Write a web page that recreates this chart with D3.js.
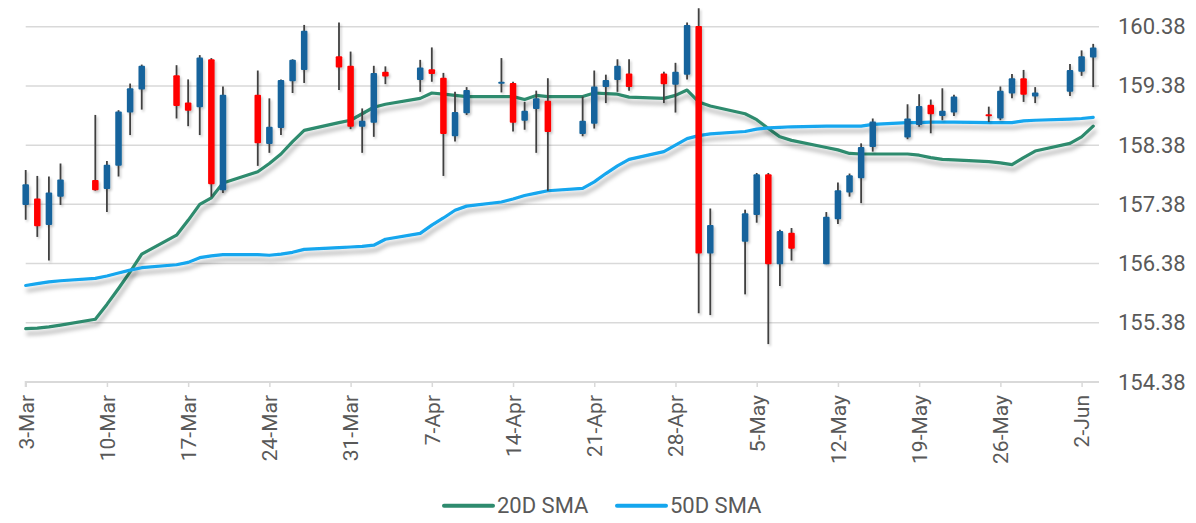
<!DOCTYPE html>
<html><head><meta charset="utf-8">
<script src="https://cdn.jsdelivr.net/npm/d3@7"></script>
<style>
body{margin:0;background:#fff;}
svg text{font-family:Roboto,"Noto Sans",sans-serif;fill:#595959;}
</style>
</head><body>
<svg id="chart" width="1196" height="523"></svg>
<script>
const dates = ["2025-03-03","2025-03-04","2025-03-05","2025-03-06",
"2025-03-09","2025-03-10","2025-03-11","2025-03-12","2025-03-13",
"2025-03-16","2025-03-17","2025-03-18","2025-03-19","2025-03-20",
"2025-03-23","2025-03-24","2025-03-25","2025-03-26","2025-03-27",
"2025-03-30","2025-03-31","2025-04-01","2025-04-02","2025-04-03",
"2025-04-06","2025-04-07","2025-04-08","2025-04-09","2025-04-10",
"2025-04-13","2025-04-14","2025-04-15","2025-04-16","2025-04-17",
"2025-04-20","2025-04-21","2025-04-22","2025-04-23","2025-04-24",
"2025-04-27","2025-04-28","2025-04-29","2025-04-30","2025-05-01",
"2025-05-04","2025-05-05","2025-05-06","2025-05-07","2025-05-08",
"2025-05-11","2025-05-12","2025-05-13","2025-05-14","2025-05-15",
"2025-05-18","2025-05-19","2025-05-20","2025-05-21","2025-05-22",
"2025-05-25","2025-05-26","2025-05-27","2025-05-28","2025-05-29",
"2025-06-01","2025-06-02","2025-06-03"];
const open = [157.37,157.48,157.03,157.51,
157.79,157.64,158.03,158.93,159.32,
159.56,159.10,159.02,159.83,157.62,
159.23,158.40,158.67,159.46,159.65,
159.88,159.72,158.69,158.76,159.62,
159.48,159.66,159.52,158.53,158.92,
159.42,159.43,158.79,158.99,159.13,
158.57,158.74,159.36,159.48,159.59,
159.59,159.40,159.57,160.39,156.55,
156.75,157.20,157.89,156.37,156.90,
156.37,157.13,157.58,157.82,158.35,
158.51,158.72,159.06,158.87,158.93,
158.90,158.83,159.25,159.51,159.20,
159.28,159.62,159.86];
const high = [157.96,157.86,157.85,158.07,
158.89,158.11,158.97,159.42,159.74,
159.73,159.49,159.90,159.85,159.37,
159.64,159.17,159.49,159.83,160.41,
160.45,159.96,159.00,159.72,159.71,
159.82,160.03,159.60,159.28,159.36,
159.85,159.45,159.11,159.30,159.51,
159.20,159.64,159.57,159.83,159.83,
159.62,159.77,160.45,160.69,157.31,
157.29,157.91,157.91,156.95,156.98,
157.25,157.75,157.90,158.41,158.83,
159.07,159.24,159.15,159.34,159.23,
159.03,159.37,159.58,159.65,159.36,
159.75,159.98,160.09];
const low = [157.12,156.83,156.43,157.37,
157.61,157.25,157.85,158.55,158.98,
158.83,158.70,158.55,157.51,157.57,
158.03,158.25,158.55,159.26,159.43,
159.31,158.65,158.25,158.52,159.41,
159.28,159.45,157.86,158.44,158.89,
159.27,158.61,158.64,158.25,157.61,
158.53,158.66,159.09,159.28,159.30,
159.09,158.93,159.49,155.54,155.51,
155.86,157.07,155.02,156.00,156.43,
156.37,157.05,157.51,157.40,158.27,
158.48,158.69,158.58,158.80,158.87,
158.77,158.80,159.17,159.11,159.09,
159.21,159.55,159.36];
const close = [157.72,157.01,157.58,157.80,
157.62,158.05,158.95,159.34,159.72,
159.04,158.96,159.86,157.72,159.23,
158.41,158.69,159.48,159.82,160.31,
159.69,158.69,158.79,159.60,159.54,
159.69,159.58,158.57,158.94,159.31,
159.45,158.76,158.96,159.17,158.60,
158.79,159.37,159.48,159.72,159.36,
159.41,159.62,160.41,156.55,157.03,
157.23,157.89,156.37,156.93,156.63,
157.17,157.62,157.87,158.35,158.78,
158.83,159.04,158.90,158.96,159.20,
158.88,159.30,159.51,159.23,159.27,
159.65,159.88,160.03];
const sma20 = [155.28,155.29,155.31,155.34,
155.44,155.69,155.96,156.24,156.54,
156.86,157.11,157.38,157.49,157.74,
157.93,158.07,158.23,158.44,158.63,
158.76,158.80,158.91,159.02,159.07,
159.17,159.26,159.24,159.22,159.20,
159.20,159.20,159.15,159.22,159.20,
159.20,159.26,159.25,159.24,159.19,
159.17,159.22,159.31,159.11,159.04,
158.91,158.81,158.66,158.52,158.46,
158.34,158.30,158.24,158.23,158.23,
158.23,158.21,158.17,158.14,158.13,
158.10,158.08,158.05,158.17,158.28,
158.41,158.52,158.70];
const sma50 = [156.01,156.04,156.07,156.09,
156.13,156.17,156.22,156.27,156.31,
156.36,156.40,156.48,156.51,156.53,
156.53,156.52,156.54,156.57,156.62,
156.65,156.66,156.67,156.69,156.79,
156.89,157.03,157.15,157.28,157.35,
157.42,157.47,157.53,157.57,157.61,
157.65,157.76,157.90,158.03,158.14,
158.27,158.38,158.49,158.54,158.57,
158.61,158.65,158.67,158.68,158.69,
158.70,158.70,158.70,158.70,158.73,
158.76,158.76,158.77,158.77,158.77,
158.76,158.76,158.76,158.79,158.80,
158.82,158.83,158.85];
const yTicks = [154.38,155.38,156.38,157.38,158.38,159.38,160.38];
const xTicks = ["2025-03-03","2025-03-10","2025-03-17","2025-03-24","2025-03-31",
"2025-04-07","2025-04-14","2025-04-21","2025-04-28","2025-05-05","2025-05-12",
"2025-05-19","2025-05-26","2025-06-02"];
const seriesNames = ["20D SMA","50D SMA"];
const seriesColors = ["#2e8b6e","#14a6ee"];

const parse = d3.utcParse("%Y-%m-%d");
const data = dates.map((d,i)=>({date:parse(d),o:open[i],h:high[i],l:low[i],c:close[i],s20:sma20[i],s50:sma50[i]}));

const L = 25.7, R = 1099, T = 26.7, B = 382;
const x = d3.scaleUtc()
  .domain([parse("2025-03-03"), d3.utcHour.offset(parse("2025-06-03"), 12)])
  .range([L, R]);
const y = d3.scaleLinear().domain([154.38,160.38]).range([B, T]);

const svg = d3.select("#chart");
const defs = svg.append("defs");
const f1 = defs.append("filter").attr("id","lineShadow").attr("x","-5%").attr("y","-50%").attr("width","110%").attr("height","200%");
f1.append("feDropShadow").attr("dx",2).attr("dy",5).attr("stdDeviation",2.2).attr("flood-color","#000").attr("flood-opacity",0.3);
const f2 = defs.append("filter").attr("id","candleShadow").attr("x","-50%").attr("y","-20%").attr("width","250%").attr("height","140%");
f2.append("feDropShadow").attr("dx",1.5).attr("dy",2).attr("stdDeviation",1.2).attr("flood-color","#000").attr("flood-opacity",0.22);

// gridlines
svg.append("g").selectAll("line").data(yTicks.filter(v=>v!==154.38)).join("line")
  .attr("x1",L).attr("x2",R).attr("y1",d=>y(d)).attr("y2",d=>y(d))
  .attr("stroke","#d9d9d9").attr("stroke-width",1.5);

// x axis
const xAxis = d3.axisBottom(x).tickValues(xTicks.map(parse)).tickSize(5).tickFormat(d3.utcFormat("%-d-%b"));
const gx = svg.append("g").attr("transform",`translate(0,${B})`).call(xAxis);
gx.select(".domain").attr("stroke","#d9d9d9").attr("stroke-width",2).attr("d",`M${L},5V0H${R}`);
gx.selectAll(".tick line").attr("stroke","#d9d9d9").attr("stroke-width",1.5);
gx.selectAll(".tick text").attr("font-size",21).attr("fill","#595959")
  .attr("text-anchor","end").attr("transform","rotate(-90)")
  .attr("x",-13).attr("y",0).attr("dy","0.35em");

// y axis labels (right)
const yAxis = d3.axisRight(y).tickValues(yTicks).tickSize(0).tickPadding(0).tickFormat(d3.format(".2f"));
const gy = svg.append("g").attr("transform",`translate(1118,0)`).call(yAxis);
gy.select(".domain").remove();
gy.selectAll(".tick text").attr("font-size",22).attr("fill","#595959").attr("x",0);

// SMA lines
const plot = svg.append("g");
const keys = ["s20","s50"];
keys.forEach((k,i)=>{
  plot.append("path").datum(data)
    .attr("fill","none").attr("stroke",seriesColors[i]).attr("stroke-width",3.2)
    .attr("stroke-linejoin","round").attr("stroke-linecap","round")
    .attr("filter","url(#lineShadow)")
    .attr("d", d3.line().x(d=>x(d.date)).y(d=>y(d[k]))(data));
});

// candles
const bw = 6.5;
const cg = plot.append("g").attr("filter","url(#candleShadow)");
const candle = cg.selectAll("g").data(data).join("g");
candle.append("line")
  .attr("x1",d=>x(d.date)).attr("x2",d=>x(d.date))
  .attr("y1",d=>y(d.h)).attr("y2",d=>y(d.l))
  .attr("stroke","#404040").attr("stroke-width",1.8);
candle.append("rect")
  .attr("x",d=>x(d.date)-bw/2).attr("width",bw)
  .attr("y",d=>y(Math.max(d.o,d.c)))
  .attr("height",d=>Math.max(2,Math.abs(y(d.o)-y(d.c))))
  .attr("rx",1)
  .attr("fill",d=>d.c>=d.o?"#14649c":"#ff0000");

// legend
const lg = svg.append("g");
const legX = [444, 617];
seriesNames.forEach((n,i)=>{
  lg.append("line").attr("x1",legX[i]).attr("x2",legX[i]+49).attr("y1",505.7).attr("y2",505.7)
    .attr("stroke",seriesColors[i]).attr("stroke-width",4).attr("stroke-linecap","round");
  lg.append("text").attr("x",legX[i]+53).attr("y",505.7).attr("dy","0.35em")
    .attr("font-size",22).text(n);
});
</script>
</body></html>
